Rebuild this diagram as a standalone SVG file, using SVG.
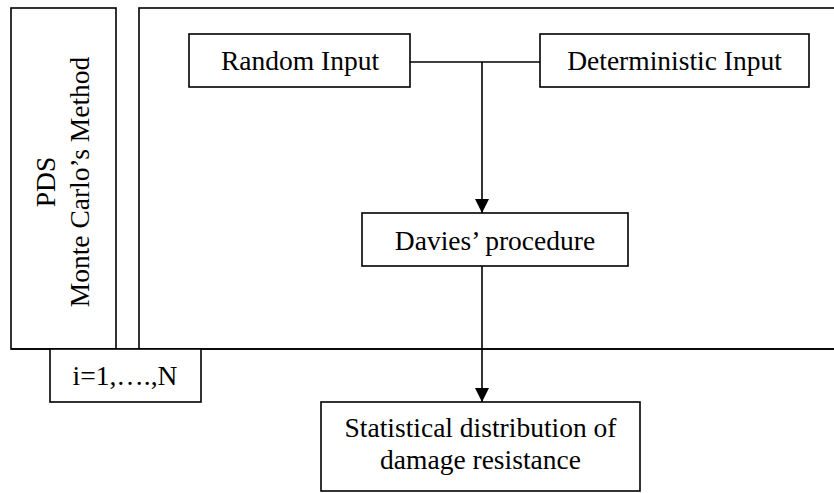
<svg xmlns="http://www.w3.org/2000/svg" width="834" height="493" viewBox="0 0 834 493">
<defs>
<style>
.box{fill:#fff;stroke:#000;stroke-width:1.6}
.ln{fill:none;stroke:#000;stroke-width:1.6}
text{font-family:"Liberation Serif","Times New Roman",serif;font-size:27.5px;fill:#000;text-anchor:middle}
</style>
<marker id="ah" viewBox="0 0 14 14" markerWidth="14" markerHeight="14" refX="14" refY="7" orient="auto" markerUnits="userSpaceOnUse">
<path d="M0,0 L14,7 L0,14 Z" fill="#000"/>
</marker>
</defs>
<rect width="834" height="493" fill="#fff"/>
<g id="pds">
<rect class="box" x="11" y="8" width="105" height="341"/>
<text transform="translate(55,182) rotate(-90)">PDS</text>
<text transform="translate(89,182) rotate(-90)">Monte Carlo’s Method</text>
</g>
<g id="loop">
<rect class="box" x="139" y="8" width="710" height="341"/>
<line class="ln" x1="11" y1="349" x2="834" y2="349"/>
</g>
<g id="iter">
<rect class="box" x="50" y="349" width="151" height="53"/>
<text x="125" y="385">i=1,….,N</text>
</g>
<g id="random">
<rect class="box" x="189" y="34" width="221" height="53"/>
<text x="300" y="70">Random Input</text>
</g>
<g id="deterministic">
<rect class="box" x="540" y="34" width="269" height="53"/>
<text x="674.5" y="70">Deterministic Input</text>
</g>
<g id="davies">
<rect class="box" x="362" y="213" width="266" height="53"/>
<text x="495" y="250">Davies’ procedure</text>
</g>
<g id="stat">
<rect class="box" x="321" y="402" width="319" height="89"/>
<text x="480.5" y="437">Statistical distribution of</text>
<text x="480.5" y="469">damage resistance</text>
</g>
<g id="connectors">
<line class="ln" x1="410" y1="62" x2="540" y2="62"/>
<line class="ln" x1="482" y1="62" x2="482" y2="213" marker-end="url(#ah)"/>
<line class="ln" x1="482" y1="266" x2="482" y2="402" marker-end="url(#ah)"/>
</g>
</svg>
